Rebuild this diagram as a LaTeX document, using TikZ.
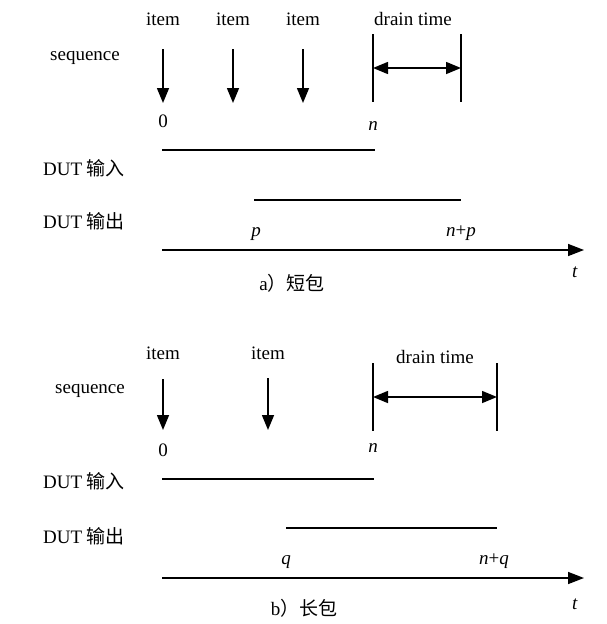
\documentclass[tikz,border=0pt]{standalone}
\usepackage{fontspec}
\setmainfont{Liberation Serif}
\newfontfamily\cjk{Noto Sans CJK SC}
\usetikzlibrary{arrows.meta}
\begin{document}
\begin{tikzpicture}[x=1pt,y=-1pt,
  lbl/.style={inner sep=0pt,yshift=-4pt,font=\fontsize{19}{22}\selectfont,text height=0.68em,text depth=0.2em},
  ln/.style={line width=1.5pt},
  dn/.style={line width=1.5pt,-{Triangle[length=15pt,width=12pt]}},
  dbl/.style={line width=1.5pt,{Triangle[length=15pt,width=12pt]}-{Triangle[length=15pt,width=12pt]}},
  ax/.style={line width=1.5pt,-{Triangle[length=16pt,width=12pt]}}]
\useasboundingbox (0,0) rectangle (606,624);
% ---------- panel a ----------
\node[lbl] (ia1) at (163,19) {item};
\node[lbl] (ia2) at (233,19) {item};
\node[lbl] (ia3) at (303,19) {item};
\node[lbl] (seqa) at (85,54) {sequence};
\node[lbl] (dta) at (413,19) {drain time};
\coordinate (a1s) at (163,49); \coordinate (a1e) at (163,103);
\coordinate (a2s) at (233,49); \coordinate (a2e) at (233,103);
\coordinate (a3s) at (303,49); \coordinate (a3e) at (303,103);
\draw[dn] (a1s) -- (a1e);
\draw[dn] (a2s) -- (a2e);
\draw[dn] (a3s) -- (a3e);
\coordinate (da1t) at (373,34); \coordinate (da1b) at (373,102);
\coordinate (da2t) at (461,34); \coordinate (da2b) at (461,102);
\draw[ln] (da1t) -- (da1b);
\draw[ln] (da2t) -- (da2b);
\coordinate (dal) at (373,68); \coordinate (dar) at (461,68);
\draw[dbl] (dal) -- (dar);
\node[lbl] (za) at (163,121) {0};
\node[lbl] (na) at (373,124) {\textit{n}};
\node[lbl,anchor=west] (ina) at (43,169) {DUT {\cjk 输入}};
\node[lbl,anchor=west] (outa) at (43,222) {DUT {\cjk 输出}};
\coordinate (ina1) at (162,150); \coordinate (ina2) at (375,150);
\draw[ln] (ina1) -- (ina2);
\coordinate (outa1) at (254,200); \coordinate (outa2) at (461,200);
\draw[ln] (outa1) -- (outa2);
\node[lbl] (pa) at (256,230) {\textit{p}};
\node[lbl] (npa) at (461,230) {\textit{n}+\textit{p}};
\coordinate (axa1) at (162,250); \coordinate (axa2) at (584,250);
\draw[ax] (axa1) -- (axa2);
\node[lbl] (ta) at (575,271) {\textit{t}};
\node[lbl] (capa) at (292,284) {a{\cjk ）短包}};
% ---------- panel b ----------
\node[lbl] (ib1) at (163,353) {item};
\node[lbl] (ib2) at (268,353) {item};
\node[lbl] (seqb) at (90,387) {sequence};
\node[lbl] (dtb) at (435,357) {drain time};
\coordinate (b1s) at (163,379); \coordinate (b1e) at (163,430);
\coordinate (b2s) at (268,378); \coordinate (b2e) at (268,430);
\draw[dn] (b1s) -- (b1e);
\draw[dn] (b2s) -- (b2e);
\coordinate (db1t) at (373,363); \coordinate (db1b) at (373,431);
\coordinate (db2t) at (497,363); \coordinate (db2b) at (497,431);
\draw[ln] (db1t) -- (db1b);
\draw[ln] (db2t) -- (db2b);
\coordinate (dbl) at (373,397); \coordinate (dbr) at (497,397);
\draw[dbl] (dbl) -- (dbr);
\node[lbl] (zb) at (163,450) {0};
\node[lbl] (nb) at (373,446) {\textit{n}};
\node[lbl,anchor=west] (inb) at (43,482) {DUT {\cjk 输入}};
\node[lbl,anchor=west] (outb) at (43,537) {DUT {\cjk 输出}};
\coordinate (inb1) at (162,479); \coordinate (inb2) at (374,479);
\draw[ln] (inb1) -- (inb2);
\coordinate (outb1) at (286,528); \coordinate (outb2) at (497,528);
\draw[ln] (outb1) -- (outb2);
\node[lbl] (qb) at (286,558) {\textit{q}};
\node[lbl] (nqb) at (494,558) {\textit{n}+\textit{q}};
\coordinate (axb1) at (162,578); \coordinate (axb2) at (584,578);
\draw[ax] (axb1) -- (axb2);
\node[lbl] (tb) at (575,603) {\textit{t}};
\node[lbl] (capb) at (304,609) {b{\cjk ）长包}};
\end{tikzpicture}
\end{document}
